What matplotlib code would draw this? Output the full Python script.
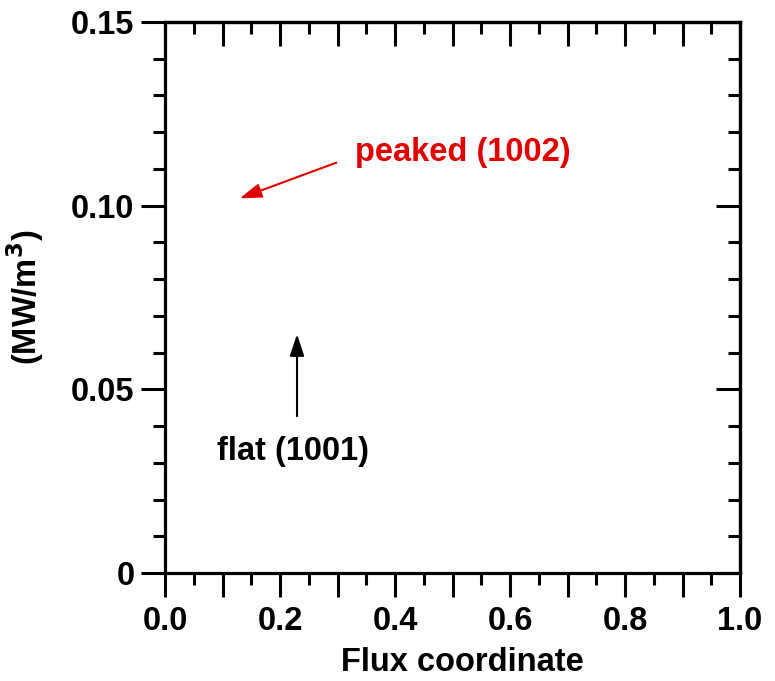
import matplotlib
matplotlib.use("Agg")
import matplotlib.pyplot as plt
from matplotlib.ticker import MultipleLocator, FixedLocator, FuncFormatter

# axis setup
x_limits = [0.0, 1.0]
y_limits = [0.0, 0.15]
x_major = [0.0, 0.1, 0.2, 0.3, 0.4, 0.5, 0.6, 0.7, 0.8, 0.9, 1.0]
x_labeled = [0.0, 0.2, 0.4, 0.6, 0.8, 1.0]
y_major = [0.0, 0.05, 0.10, 0.15]
y_labels = ["0", "0.05", "0.10", "0.15"]

# annotations: (text, text xy, arrow tip xy, arrow tail xy, colour)
ann_text = ["peaked (1002)", "flat (1001)"]
ann_text_xy = [(0.33, 0.1146), (0.09, 0.0330)]
ann_tail_xy = [(0.298, 0.1117), (0.2296, 0.0427)]
ann_tip_xy = [(0.130, 0.1020), (0.2296, 0.0650)]
ann_color = ["#e00000", "black"]

FS = 23.5

plt.rcParams['font.family'] = ['Liberation Sans', 'DejaVu Sans']
plt.rcParams['font.weight'] = 'bold'

fig = plt.figure(figsize=(7.75, 6.81), dpi=100)
ax = fig.add_axes([165 / 775, 1 - 573 / 681, 575 / 775, 551 / 681])

ax.set_xlim(x_limits)
ax.set_ylim(y_limits)

for s in ax.spines.values():
    s.set_linewidth(2.3)

ax.xaxis.set_major_locator(FixedLocator(x_major))
ax.xaxis.set_minor_locator(MultipleLocator(0.05))
ax.xaxis.set_major_formatter(FuncFormatter(
    lambda v, p: "%.1f" % v if any(abs(v - t) < 1e-6 for t in x_labeled) else ""))
ax.yaxis.set_major_locator(FixedLocator(y_major))
ax.yaxis.set_minor_locator(MultipleLocator(0.01))
ax.set_yticklabels(y_labels)

ax.tick_params(which='major', direction='out', length=17, width=2.2,
               labelsize=FS)
ax.tick_params(axis='x', which='major', pad=7)
ax.tick_params(axis='y', which='major', pad=5)
ax.tick_params(which='minor', direction='out', length=8.5, width=2.2)
for lab in ax.get_xticklabels() + ax.get_yticklabels():
    lab.set_fontweight('bold')

# inward ticks on top and right
top = ax.secondary_xaxis('top')
top.xaxis.set_major_locator(FixedLocator(x_major))
top.xaxis.set_minor_locator(MultipleLocator(0.05))
top.tick_params(which='major', direction='in', length=17, width=2.2, labeltop=False)
top.tick_params(which='minor', direction='in', length=8.5, width=2.2)
top.spines['top'].set_linewidth(2.3)
right = ax.secondary_yaxis('right')
right.yaxis.set_major_locator(FixedLocator(y_major))
right.yaxis.set_minor_locator(MultipleLocator(0.01))
right.tick_params(which='major', direction='in', length=17, width=2.2, labelright=False)
right.tick_params(which='minor', direction='in', length=8.5, width=2.2)
right.spines['right'].set_linewidth(2.3)

ax.set_xlabel("Flux coordinate", fontsize=FS, fontweight='bold')
ax.xaxis.set_label_coords(0.518, -0.135)
ax.set_ylabel("(MW/m$^\\mathbf{3}$)", fontsize=FS, fontweight='bold', labelpad=18)

for t, txy, tail, tip, c in zip(ann_text, ann_text_xy, ann_tail_xy, ann_tip_xy, ann_color):
    ax.text(txy[0], txy[1], t, color=c, fontsize=FS, fontweight='bold',
            ha='left', va='center')
    ax.annotate("", xy=tip, xytext=tail,
                arrowprops=dict(arrowstyle='-|>,head_length=0.6,head_width=0.2',
                                color=c, lw=1.5, mutation_scale=22,
                                shrinkA=0, shrinkB=0))

fig.savefig("out.png", dpi=100)
